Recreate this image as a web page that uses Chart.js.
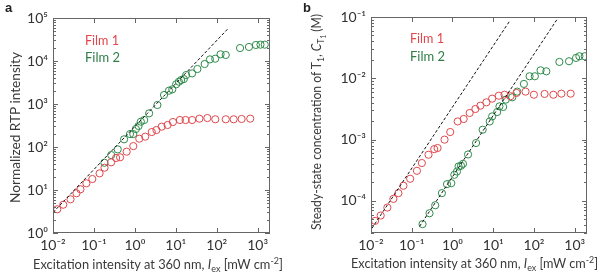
<!DOCTYPE html>
<html><head><meta charset="utf-8">
<script src="https://cdn.jsdelivr.net/npm/chart.js@4.4.0/dist/chart.umd.min.js"></script>
<style>
html,body{margin:0;padding:0;background:#fff;width:600px;height:274px;overflow:hidden;}
#wrap{position:relative;width:600px;height:274px;font-family:Lato,'Open Sans',sans-serif;color:#3a3a3a;}
canvas{position:absolute;top:0;}
.t{position:absolute;left:0;top:0;white-space:nowrap;line-height:1;font-weight:400;font-synthesis:none;}
sub{font-size:70%;vertical-align:-0.3em;line-height:0;}
sub sub{font-size:75%;vertical-align:-0.25em;}
sup{font-size:70%;vertical-align:0.55em;line-height:0;}
.lab{font-weight:bold;font-size:13px;color:#222;font-family:'Liberation Sans',Arial,sans-serif;}
.ttl{font-size:13px;}
.leg{font-size:14px;}
</style>
</head><body>
<div id="wrap">
<canvas id="ca" width="300" height="274" style="left:0"></canvas>
<canvas id="cb" width="300" height="274" style="left:300px"></canvas>
<div class="t lab" style="left:5px;top:1px">a</div>
<div class="t lab" style="left:303px;top:1px">b</div>
<div class="t ttl fit" data-cx="15" data-cy="127" data-len="151" data-rot="1">Normalized RTP intensity</div>
<div class="t ttl fit" data-cx="158" data-cy="264" data-len="250">Excitation intensity at 360 nm, <i>I</i><sub>ex</sub> [mW cm<sup>-2</sup>]</div>
<div class="t ttl fit" data-cx="316" data-cy="122" data-len="216" data-rot="1">Steady-state concentration of T<sub>1</sub>, <i>C</i><sub>T<sub>1</sub></sub> (M)</div>
<div class="t ttl fit" data-cx="474" data-cy="263" data-len="247">Excitation intensity at 360 nm, <i>I</i><sub>ex</sub> [mW cm<sup>-2</sup>]</div>
<div class="t leg fit" data-cx="102" data-cy="40" data-len="34" style="color:#e0474c">Film 1</div>
<div class="t leg fit" data-cx="102" data-cy="57" data-len="35" style="color:#2e7d46">Film 2</div>
<div class="t leg fit" data-cx="427" data-cy="38" data-len="34" style="color:#e0474c">Film 1</div>
<div class="t leg fit" data-cx="427" data-cy="56" data-len="35" style="color:#2e7d46">Film 2</div>
</div>
<script>
// ---------- data ----------
// Panel a: normalized RTP intensity
const film1A_x = [0.0127,0.0178,0.0268,0.0374,0.0468,0.0654,0.0914,0.1375,0.1815,0.263,0.348,0.435,0.63,0.915,1.28,1.79,2.59,3.36,4.52,6.3,8.5,12.6,17.3,25,37.7,58.9,92,166,259,405,658];
const film1A_y = [3.56,4.55,6.07,8.4,10.4,14.3,18.0,24.4,33.0,44,55.5,57.6,77.8,105,156,174,223,248,297,325,381,424,424,424,456,472,441,441,441,448,456];
const film2A_x = [0.18,0.264,0.381,0.545,0.76,0.915,1.06,1.23,1.40,1.69,2.23,3.55,5.15,6.8,8.2,10.2,11.9,13.5,15.7,17.9,25,33.7,50.7,68.2,91.8,124,166,371,612,904,1170,1490];
const film2A_y = [43,65,88,151,200,200,262,308,388,424,607,948,1620,2040,2190,2870,3300,3610,3810,4720,5160,6510,8510,10900,11300,14300,13800,20000,21200,23600,24000,24000];
const fitA_x = [0.01,190];
const fitA_y = [3.0,57000];
// Panel b: steady-state concentration of T1 (M)
const film1B_x = [0.0126,0.0173,0.0252,0.0354,0.0471,0.0625,0.0914,0.134,0.177,0.258,0.356,0.43,0.638,0.88,1.34,1.88,2.64,3.65,4.84,6.8,9.4,13.7,18.9,26.5,37.3,62,99.5,182,299,470,795];
const film1B_y = [4.73e-5,5.78e-5,7.8e-5,1.08e-4,1.34e-4,1.77e-4,2.3e-4,3.1e-4,4.15e-4,5.67e-4,7.0e-4,7.3e-4,1.0e-3,1.33e-3,1.98e-3,2.17e-3,2.72e-3,3.16e-3,3.58e-3,4.06e-3,4.66e-3,5.2e-3,5.4e-3,5.1e-3,5.77e-3,6.07e-3,5.4e-3,5.56e-3,5.4e-3,5.62e-3,5.62e-3];
const film2B_x = [0.184,0.273,0.377,0.55,0.733,0.934,1.11,1.29,1.41,1.62,1.81,2.41,3.79,5.5,8.2,9.4,12.5,14.2,17.5,20.3,29.2,38.7,56.5,78,105,145,201,420,725,1077,1300,1760];
const film2B_y = [4.18e-5,6.3e-5,8.5e-5,1.34e-4,1.88e-4,1.95e-4,2.67e-4,3.02e-4,3.65e-4,3.74e-4,4.03e-4,5.73e-4,8.8e-4,1.45e-3,1.98e-3,2.39e-3,2.82e-3,3.49e-3,3.41e-3,4.49e-3,4.9e-3,6.07e-3,8.1e-3,1.08e-2,1.08e-2,1.35e-2,1.3e-2,1.85e-2,1.9e-2,2.15e-2,2.29e-2,2.29e-2];
const fit1B_x = [0.0105,26];
const fit1B_y = [3.57e-5,0.0884];
const fit2B_x = [0.155,370];
const fit2B_y = [3.84e-5,0.0918];
// axis ranges
const xRangeA = [0.01,2000], yRangeA = [1,1e5];
const xRangeB = [0.01,2000], yRangeB = [3e-5,0.1];

const RED = '#e0474c', GREEN = '#2e8b4a';
const FONT = "Lato, 'Open Sans', sans-serif";
const pts = (xs,ys) => xs.map((x,i)=>({x, y: ys[i]}));
const SUP = {'-':'⁻','0':'⁰','1':'¹','2':'²','3':'³','4':'⁴','5':'⁵','6':'⁶','7':'⁷','8':'⁸','9':'⁹'};
const powLabel = v => {
  const l = Math.log10(v), r = Math.round(l);
  if (Math.abs(l-r) > 1e-6) return '';
  return '10' + String(r).split('').map(c=>SUP[c]).join('');
};

// fit overlay text to target length (HTML real text)
document.querySelectorAll('.fit').forEach(el=>{
  const r = el.getBoundingClientRect(), w = r.width, h = r.height;
  const s = Math.min(1.2,(+el.dataset.len)/w);
  const cx = +el.dataset.cx, cy = +el.dataset.cy;
  el.style.transformOrigin = '0 0';
  if (el.dataset.rot){
    el.style.left = (cx - h/2).toFixed(1)+'px';
    el.style.top = (cy + w*s/2).toFixed(1)+'px';
    el.style.transform = 'rotate(-90deg) scaleX('+s.toFixed(3)+')';
  } else {
    el.style.left = (cx - w*s/2).toFixed(1)+'px';
    el.style.top = (cy - h/2).toFixed(1)+'px';
    el.style.transform = 'scaleX('+s.toFixed(3)+')';
  }
});

const frameTicks = {
  id:'frameTicks',
  afterDraw(chart){
    const {ctx, chartArea:a, scales:{x,y}} = chart;
    ctx.save();
    ctx.strokeStyle = '#666'; ctx.lineWidth = 1;
    ctx.strokeRect(Math.round(a.left)+0.5, Math.round(a.top)+0.5, Math.round(a.right-a.left)-1, Math.round(a.bottom-a.top)-1);
    ctx.beginPath();
    const e0 = Math.ceil(Math.log10(x.min)-1e-9), e1 = Math.floor(Math.log10(x.max)+1e-9);
    for (let e=e0;e<=e1;e++){
      const px = Math.round(x.getPixelForValue(Math.pow(10,e)))+0.5;
      ctx.moveTo(px,a.bottom); ctx.lineTo(px,a.bottom-5);
      ctx.moveTo(px,a.top); ctx.lineTo(px,a.top+5);
    }
    const f0 = Math.floor(Math.log10(y.min)), f1 = Math.ceil(Math.log10(y.max));
    for (let e=f0;e<=f1;e++){
      for (let m=1;m<=9;m++){
        const v = m*Math.pow(10,e);
        if (v < y.min*0.999 || v > y.max*1.001) continue;
        const len = m===1?5:3;
        const py = Math.round(y.getPixelForValue(v))+0.5;
        ctx.moveTo(a.left,py); ctx.lineTo(a.left+len,py);
        ctx.moveTo(a.right,py); ctx.lineTo(a.right-len,py);
      }
    }
    ctx.stroke();
    ctx.restore();
  }
};

function makeChart(id, sets, xr, yr, yWidth, pad){
  new Chart(document.getElementById(id), {
    type:'scatter',
    data:{datasets: sets},
    options:{
      responsive:false, animation:false, devicePixelRatio:1,
      events:[],
      layout:{padding:pad},
      plugins:{legend:{display:false}, tooltip:{enabled:false}},
      scales:{
        x:{type:'logarithmic', min:xr[0], max:xr[1],
           grid:{display:false, drawTicks:false}, border:{display:false},
           ticks:{autoSkip:false, maxRotation:0, padding:4, color:'#333', font:{family:FONT, size:14}, callback:powLabel},
           afterFit(s){ s.height = 41; }},
        y:{type:'logarithmic', min:yr[0], max:yr[1],
           grid:{display:false, drawTicks:false}, border:{display:false},
           ticks:{autoSkip:false, padding:5, color:'#333', font:{family:FONT, size:14}, callback:powLabel},
           afterFit(s){ s.width = yWidth; }}
      }
    },
    plugins:[frameTicks]
  });
}
const circ = (label, data, color) => ({label, data, showLine:false, pointStyle:'circle', pointRadius:3.6, pointBorderWidth:1, borderColor:color, backgroundColor:'rgba(0,0,0,0)'});
const fit = (data) => ({label:'fit', data, showLine:true, pointRadius:0, borderColor:'#111', borderWidth:1, borderDash:[3,2], fill:false});

makeChart('ca', [fit(pts(fitA_x,fitA_y)), circ('Film 1', pts(film1A_x,film1A_y), RED), circ('Film 2', pts(film2A_x,film2A_y), GREEN)], xRangeA, yRangeA, 53, {left:0,right:30,top:18,bottom:0});
makeChart('cb', [fit(pts(fit1B_x,fit1B_y)), fit(pts(fit2B_x,fit2B_y)), circ('Film 1', pts(film1B_x,film1B_y), RED), circ('Film 2', pts(film2B_x,film2B_y), GREEN)], xRangeB, yRangeB, 71, {left:0,right:13,top:17,bottom:0});
</script>
</body></html>
